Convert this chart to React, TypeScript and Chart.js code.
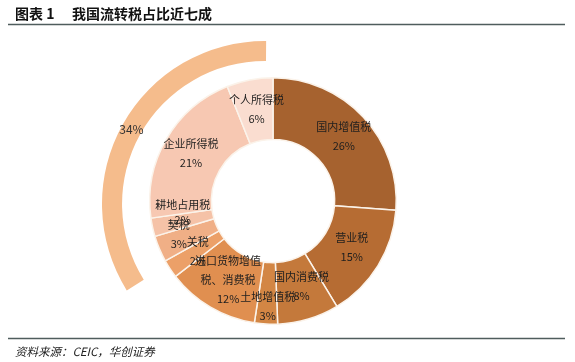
import React, { useEffect, useRef } from "react";
import { Chart, registerables } from "chart.js";

Chart.register(...registerables);

// ---- data ----
const categories = [
  "国内增值税",
  "营业税",
  "国内消费税",
  "土地增值税",
  "进口货物增值税、消费税",
  "关税",
  "契税",
  "耕地占用税",
  "企业所得税",
  "个人所得税",
];
const shares = [26, 15, 8, 3, 12, 2.4, 3.4, 2.4, 21, 6];
const shareLabels = ["26%", "15%", "8%", "3%", "12%", "2%", "3%", "2%", "21%", "6%"];
const flowArcShare = [34, 66];
const flowArcLabel = "34%";
const titleLeft = "图表 1";
const titleRight = "我国流转税占比近七成";
const sourceText = "资料来源：CEIC，华创证券";

// ---- styles ----
const sliceColors = [
  "#A6622F",
  "#B66C33",
  "#C4793B",
  "#D38644",
  "#E08F50",
  "#ECA068",
  "#F0AF86",
  "#F5C2A7",
  "#F7C8B2",
  "#FADDD0",
];
const arcColor = "#F5BC8C";
const labelNudges: [number, number][] = [
  [3, -2], [0, -2], [2, -3], [0, 13], [2, -1], [2, -1], [-9, -3], [0, -8], [-2, -1], [1, -1],
];
const FONT = '"Noto Sans CJK SC", "Noto Sans", sans-serif';

function wrap(text: string, n: number): string[] {
  const out: string[] = [];
  for (let i = 0; i < text.length; i += n) out.push(text.slice(i, i + n));
  return out;
}

export default function App() {
  const mainRef = useRef<HTMLCanvasElement>(null);
  const arcRef = useRef<HTMLCanvasElement>(null);

  useEffect(() => {
    const arcLabelPlugin = {
      id: "arcLabel",
      afterDatasetsDraw(chart: any) {
        const ctx = chart.ctx;
        const el = chart.getDatasetMeta(0).data[0];
        const p = el.getProps(["x", "y", "startAngle", "endAngle", "innerRadius", "outerRadius"], true);
        const mid = (p.startAngle + p.endAngle) / 2;
        const r = (p.innerRadius + p.outerRadius) / 2;
        ctx.save();
        ctx.fillStyle = "#333";
        ctx.font = `12px ${FONT}`;
        ctx.textAlign = "center";
        ctx.textBaseline = "middle";
        ctx.fillText(flowArcLabel, p.x + Math.cos(mid) * r, p.y + Math.sin(mid) * r);
        ctx.restore();
      },
    };

    const arcChart = new Chart(arcRef.current!, {
      type: "doughnut",
      data: {
        labels: ["流转税", ""],
        datasets: [
          {
            data: flowArcShare,
            backgroundColor: [arcColor, "rgba(0,0,0,0)"],
            borderWidth: 0,
          },
        ],
      },
      options: {
        responsive: false,
        animation: false,
        rotation: 238,
        cutout: "87.7%",
        layout: { padding: 0 },
        plugins: { legend: { display: false }, tooltip: { enabled: false } },
      },
      plugins: [arcLabelPlugin],
    });

    const decorPlugin = {
      id: "decor",
      afterDatasetsDraw(chart: any) {
        const ctx = chart.ctx;
        const meta = chart.getDatasetMeta(0);
        ctx.save();
        ctx.fillStyle = "#1e1e1e";
        ctx.font = `11px ${FONT}`;
        ctx.textAlign = "center";
        ctx.textBaseline = "middle";
        meta.data.forEach((el: any, i: number) => {
          const p = el.getProps(["x", "y", "startAngle", "endAngle", "innerRadius", "outerRadius"], true);
          const mid = (p.startAngle + p.endAngle) / 2;
          const r = (p.innerRadius + p.outerRadius) / 2;
          const cx = p.x + Math.cos(mid) * r + labelNudges[i][0];
          const cy = p.y + Math.sin(mid) * r + labelNudges[i][1];
          const lines = [...wrap(categories[i], 6), shareLabels[i]];
          const lh = i === 7 ? 15 : 19;
          const y0 = cy - ((lines.length - 1) * lh) / 2;
          lines.forEach((t, k) => ctx.fillText(t, cx, y0 + k * lh));
        });
        ctx.restore();
      },
      afterDraw(chart: any) {
        const ctx = chart.ctx;
        ctx.save();
        // title
        ctx.fillStyle = "#111";
        ctx.textBaseline = "middle";
        ctx.textAlign = "left";
        ctx.font = `bold 14px ${FONT}`;
        ctx.fillText(titleLeft, 15, 14);
        ctx.fillText(titleRight, 72, 14);
        // rules
        ctx.strokeStyle = "#4f5d5d";
        ctx.lineWidth = 1.5;
        ctx.beginPath();
        ctx.moveTo(8, 24.5);
        ctx.lineTo(565, 24.5);
        ctx.moveTo(8, 338.5);
        ctx.lineTo(565, 338.5);
        ctx.stroke();
        // source
        ctx.fillStyle = "#222";
        ctx.font = `italic 11.5px ${FONT}`;
        ctx.fillText(sourceText, 15, 352);
        ctx.restore();
      },
    };

    const mainChart = new Chart(mainRef.current!, {
      type: "doughnut",
      data: {
        labels: categories,
        datasets: [
          {
            data: shares,
            backgroundColor: sliceColors,
            borderColor: "#fbf3ea",
            borderWidth: 1.5,
          },
        ],
      },
      options: {
        responsive: false,
        animation: false,
        cutout: "50%",
        layout: { padding: { left: 149, right: 178, top: 77, bottom: 37 } },
        plugins: { legend: { display: false }, tooltip: { enabled: false } },
      },
      plugins: [decorPlugin],
    });

    return () => {
      mainChart.destroy();
      arcChart.destroy();
    };
  }, []);

  return (
    <div
      style={{
        position: "absolute",
        left: 0,
        top: 0,
        width: 575,
        height: 362,
        overflow: "hidden",
        background: "#fff",
      }}
    >
      <canvas
        ref={arcRef}
        width={326}
        height={326}
        style={{ position: "absolute", left: 102, top: 41, width: 326, height: 326 }}
      />
      <canvas
        ref={mainRef}
        width={575}
        height={362}
        style={{ position: "absolute", left: 0, top: 0, width: 575, height: 362 }}
      />
    </div>
  );
}
